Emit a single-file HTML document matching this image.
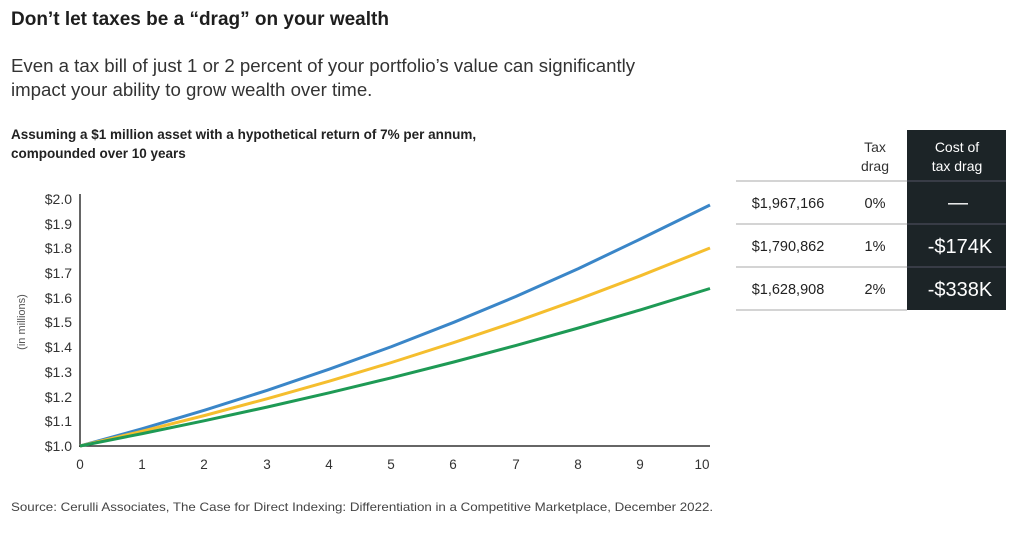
<!DOCTYPE html>
<html><head><meta charset="utf-8"><style>
body{margin:0;background:#fff;width:1024px;height:536px;overflow:hidden;font-family:"Liberation Sans",sans-serif;color:#222;}
.t{position:absolute;white-space:nowrap;transform-origin:0 0}
</style></head><body>
<div class="t" style="left:11px;top:9px;font-size:19px;font-weight:bold;color:#1e1e1e">Don’t let taxes be a “drag” on your wealth</div>
<div class="t" style="left:11px;top:54px;font-size:18px;line-height:24px;color:#333;transform:scaleX(1.035)">Even a tax bill of just 1 or 2 percent of your portfolio’s value can significantly<br>impact your ability to grow wealth over time.</div>
<div class="t" style="left:11px;top:125px;font-size:13.5px;line-height:19px;font-weight:bold;color:#222">Assuming a $1 million asset with a hypothetical return of 7% per annum,<br>compounded over 10 years</div>
<div class="t" style="left:11px;top:500px;font-size:12px;color:#444;transform:scaleX(1.11)">Source: Cerulli Associates, The Case for Direct Indexing: Differentiation in a Competitive Marketplace, December 2022.</div>
<svg width="1024" height="536" style="position:absolute;left:0;top:0" font-family="Liberation Sans, sans-serif">
<g font-size="14" fill="#333" text-anchor="end">
<text x="72" y="204">$2.0</text><text x="72" y="229">$1.9</text><text x="72" y="253">$1.8</text><text x="72" y="278">$1.7</text><text x="72" y="303">$1.6</text><text x="72" y="327">$1.5</text><text x="72" y="352">$1.4</text><text x="72" y="377">$1.3</text><text x="72" y="402">$1.2</text><text x="72" y="426">$1.1</text><text x="72" y="451">$1.0</text>
</g>
<text transform="translate(25,322) rotate(-90)" font-size="11" fill="#555" text-anchor="middle">(in millions)</text>
<g font-size="13.5" fill="#333" text-anchor="middle">
<text x="80" y="469">0</text><text x="142" y="469">1</text><text x="204" y="469">2</text><text x="267" y="469">3</text><text x="329" y="469">4</text><text x="391" y="469">5</text><text x="453" y="469">6</text><text x="516" y="469">7</text><text x="578" y="469">8</text><text x="640" y="469">9</text><text x="702" y="469">10</text>
</g>
<line x1="80" y1="194" x2="80" y2="447" stroke="#333" stroke-width="1.5"/>
<line x1="79" y1="446" x2="710" y2="446" stroke="#333" stroke-width="1.5"/>
<path fill="none" stroke="#3a86c8" stroke-width="3" stroke-linejoin="round" d="M80,446 L142.3,428.7 L204.6,410.2 L266.9,390.4 L329.2,369.2 L391.5,346.6 L453.8,322.3 L516.1,296.4 L578.4,268.6 L640.7,238.9 L710,205"/>
<path fill="none" stroke="#f5be2e" stroke-width="3" stroke-linejoin="round" d="M80,446 L142.3,431.2 L204.6,415.5 L266.9,398.8 L329.2,381.2 L391.5,362.5 L453.8,342.6 L516.1,321.6 L578.4,299.3 L640.7,275.7 L710,248"/>
<path fill="none" stroke="#1e9a55" stroke-width="3" stroke-linejoin="round" d="M80,446 L142.3,433.6 L204.6,420.7 L266.9,407.1 L329.2,392.8 L391.5,377.8 L453.8,362 L516.1,345.4 L578.4,328 L640.7,309.8 L710,288.5"/>
<rect x="907" y="130" width="99" height="180" fill="#1c2427"/>
<g stroke="#bbb" stroke-width="1.2"><line x1="736" y1="181" x2="907" y2="181"/><line x1="736" y1="224" x2="907" y2="224"/><line x1="736" y1="267" x2="907" y2="267"/><line x1="736" y1="310" x2="907" y2="310"/></g>
<g stroke="#556" stroke-width="1"><line x1="907" y1="181" x2="1006" y2="181"/><line x1="907" y1="224" x2="1006" y2="224"/><line x1="907" y1="267" x2="1006" y2="267"/></g>
<g font-size="14" fill="#333" text-anchor="middle"><text x="875" y="152">Tax</text><text x="875" y="171">drag</text></g>
<g font-size="14" fill="#fff" text-anchor="middle"><text x="957" y="152">Cost of</text><text x="957" y="171">tax drag</text></g>
<g font-size="14.5" fill="#222" text-anchor="middle"><text x="788" y="208">$1,967,166</text><text x="788" y="251">$1,790,862</text><text x="788" y="294">$1,628,908</text>
<text x="875" y="208">0%</text><text x="875" y="251">1%</text><text x="875" y="294">2%</text></g>
<g font-size="20" fill="#fff" text-anchor="middle"><text x="958" y="209">—</text><text x="960" y="253">-$174K</text><text x="960" y="296">-$338K</text></g>
</svg>
</body></html>
